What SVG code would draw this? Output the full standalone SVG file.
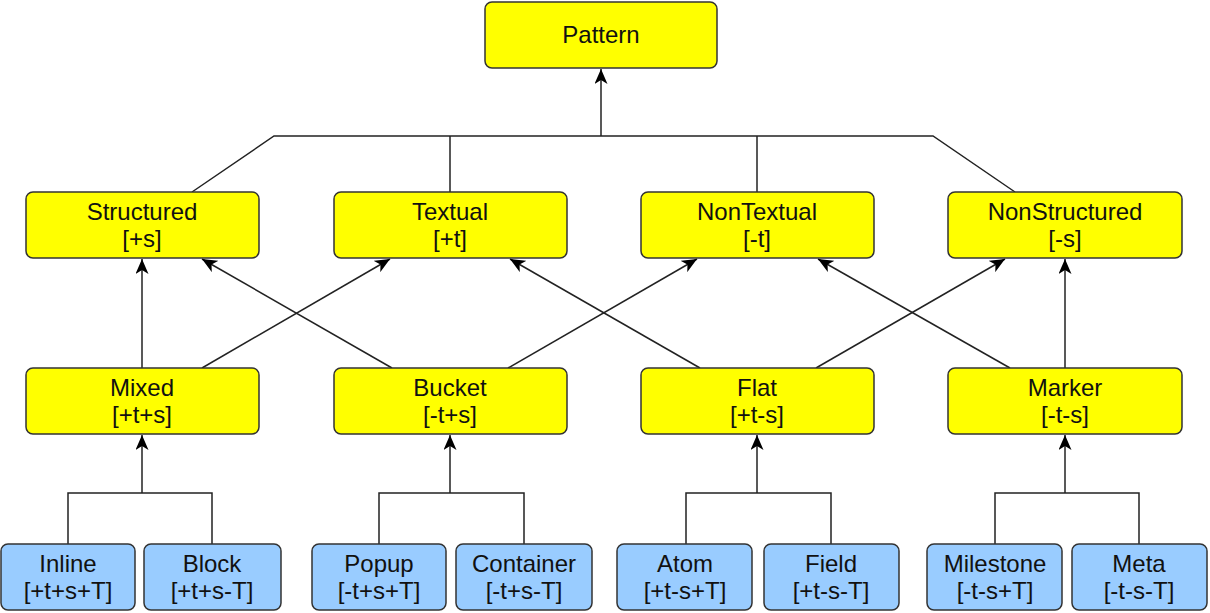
<svg xmlns="http://www.w3.org/2000/svg" width="1210" height="613" viewBox="0 0 1210 613">
<style>
.y{fill:#ffff00;stroke:#333;stroke-width:1.5}
.b{fill:#99ccff;stroke:#333;stroke-width:1.5}
text{font-family:"Liberation Sans",Arial,sans-serif;font-size:24px;fill:#111;text-anchor:middle}
.c line,.c polyline{stroke:#222;stroke-width:1.5;fill:none}
</style>
<defs>
<marker id="a" markerUnits="userSpaceOnUse" markerWidth="16" markerHeight="13" refX="15" refY="6.5" orient="auto">
<path d="M0,0 L15,6.5 L0,13 L4,6.5 Z" fill="#000"/>
</marker>
</defs>
<g class="c">
<polyline points="192,192 274,136 933,136 1015,192"/>
<line x1="450" y1="136" x2="450" y2="192"/>
<line x1="757" y1="136" x2="757" y2="192"/>
<line x1="601" y1="136" x2="601" y2="69" marker-end="url(#a)"/>
<line x1="142" y1="368" x2="142" y2="259" marker-end="url(#a)"/>
<line x1="202" y1="368" x2="390" y2="259" marker-end="url(#a)"/>
<line x1="392" y1="368" x2="202" y2="259" marker-end="url(#a)"/>
<line x1="508" y1="368" x2="697" y2="259" marker-end="url(#a)"/>
<line x1="700" y1="368" x2="510" y2="259" marker-end="url(#a)"/>
<line x1="816" y1="368" x2="1005" y2="259" marker-end="url(#a)"/>
<line x1="1010" y1="368" x2="818" y2="259" marker-end="url(#a)"/>
<line x1="1065" y1="368" x2="1065" y2="259" marker-end="url(#a)"/>
<polyline points="68,544 68,493 212,493 212,544"/>
<line x1="142" y1="493" x2="142" y2="435" marker-end="url(#a)"/>
<polyline points="379,544 379,493 524,493 524,544"/>
<line x1="450" y1="493" x2="450" y2="435" marker-end="url(#a)"/>
<polyline points="686,544 686,493 831,493 831,544"/>
<line x1="757" y1="493" x2="757" y2="435" marker-end="url(#a)"/>
<polyline points="995,544 995,493 1139,493 1139,544"/>
<line x1="1065" y1="493" x2="1065" y2="435" marker-end="url(#a)"/>
</g>
<g id="pattern"><rect class="y" x="485" y="2" width="232" height="66" rx="7"/><text x="601" y="43">Pattern</text></g>
<g id="structured"><rect class="y" x="26" y="192" width="233" height="66" rx="7"/><text x="142" y="220">Structured</text><text x="142" y="247">[+s]</text></g>
<g id="textual"><rect class="y" x="334" y="192" width="233" height="66" rx="7"/><text x="450" y="220">Textual</text><text x="450" y="247">[+t]</text></g>
<g id="nontextual"><rect class="y" x="641" y="192" width="233" height="66" rx="7"/><text x="757" y="220">NonTextual</text><text x="757" y="247">[-t]</text></g>
<g id="nonstructured"><rect class="y" x="948" y="192" width="234" height="66" rx="7"/><text x="1065" y="220">NonStructured</text><text x="1065" y="247">[-s]</text></g>
<g id="mixed"><rect class="y" x="26" y="368" width="233" height="66" rx="7"/><text x="142" y="396">Mixed</text><text x="142" y="423">[+t+s]</text></g>
<g id="bucket"><rect class="y" x="334" y="368" width="233" height="66" rx="7"/><text x="450" y="396">Bucket</text><text x="450" y="423">[-t+s]</text></g>
<g id="flat"><rect class="y" x="641" y="368" width="233" height="66" rx="7"/><text x="757" y="396">Flat</text><text x="757" y="423">[+t-s]</text></g>
<g id="marker"><rect class="y" x="948" y="368" width="234" height="66" rx="7"/><text x="1065" y="396">Marker</text><text x="1065" y="423">[-t-s]</text></g>
<g id="inline"><rect class="b" x="1" y="544" width="134" height="66" rx="7"/><text x="68" y="572">Inline</text><text x="68" y="599">[+t+s+T]</text></g>
<g id="block"><rect class="b" x="144" y="544" width="137" height="66" rx="7"/><text x="212" y="572">Block</text><text x="212" y="599">[+t+s-T]</text></g>
<g id="popup"><rect class="b" x="312" y="544" width="134" height="66" rx="7"/><text x="379" y="572">Popup</text><text x="379" y="599">[-t+s+T]</text></g>
<g id="container"><rect class="b" x="456" y="544" width="136" height="66" rx="7"/><text x="524" y="572">Container</text><text x="524" y="599">[-t+s-T]</text></g>
<g id="atom"><rect class="b" x="617" y="544" width="135" height="66" rx="7"/><text x="685" y="572">Atom</text><text x="685" y="599">[+t-s+T]</text></g>
<g id="field"><rect class="b" x="764" y="544" width="135" height="66" rx="7"/><text x="831" y="572">Field</text><text x="831" y="599">[+t-s-T]</text></g>
<g id="milestone"><rect class="b" x="927" y="544" width="135" height="66" rx="7"/><text x="995" y="572">Milestone</text><text x="995" y="599">[-t-s+T]</text></g>
<g id="meta"><rect class="b" x="1072" y="544" width="135" height="66" rx="7"/><text x="1139" y="572">Meta</text><text x="1139" y="599">[-t-s-T]</text></g>
</svg>
